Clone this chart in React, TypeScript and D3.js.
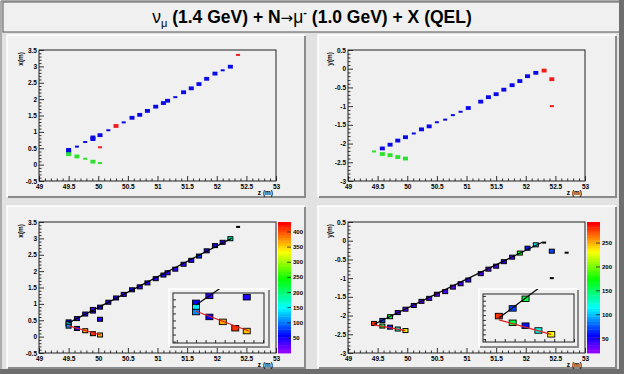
import React, { useRef, useEffect } from 'react';
import * as d3 from 'd3';

// XZ view hits. label: mu = muon track, p = proton, x = unassociated
const zXZ = [49.50, 49.50, 49.64, 49.78, 49.91, 49.91, 50.03, 50.17, 50.30, 50.43, 50.57, 50.70, 50.83, 50.97, 51.10, 51.17, 51.30, 51.44, 51.57, 51.70, 51.83, 51.97, 52.10, 52.23, 52.36, 50.03, 49.50, 49.64, 49.78, 49.91, 50.03];
const xXZ = [0.45, 0.39, 0.55, 0.69, 0.78, 0.83, 0.90, 1.05, 1.18, 1.29, 1.43, 1.52, 1.64, 1.77, 1.88, 1.95, 2.06, 2.21, 2.33, 2.46, 2.62, 2.78, 2.88, 2.99, 3.35, 0.53, 0.32, 0.25, 0.18, 0.09, 0.05];
const labelXZ = ['mu', 'mu', 'mu', 'mu', 'mu', 'mu', 'mu', 'mu', 'x', 'mu', 'mu', 'mu', 'mu', 'mu', 'mu', 'mu', 'mu', 'mu', 'mu', 'mu', 'mu', 'mu', 'mu', 'mu', 'x', 'x', 'p', 'p', 'p', 'p', 'p'];
const mipXZ = [2, 2, 1, 1, 2, 2, 2, 1, 2, 1, 2, 2, 2, 2, 2, 2, 1, 2, 2, 2, 2, 2, 1, 2, 1, 1, 2, 2, 1, 2, 1];
const adcXZ = [60, 140, 40, 35, 40, 30, 45, 40, 35, 30, 60, 40, 35, 40, 45, 40, 35, 40, 45, 70, 40, 45, 35, 180, 0, 45, 110, 55, 370, 410, 360];

// YZ view hits. label n = noise hit seen only in the charge view
const zYZ = [49.58, 49.71, 49.84, 49.97, 50.11, 50.24, 50.37, 50.50, 50.64, 50.77, 50.90, 51.03, 51.24, 51.37, 51.50, 51.63, 51.77, 51.90, 52.03, 52.17, 52.31, 52.44, 52.44, 52.69, 49.44, 49.58, 49.71, 49.84, 49.97];
const yYZ = [-2.13, -2.03, -1.92, -1.83, -1.73, -1.62, -1.54, -1.43, -1.36, -1.24, -1.15, -1.05, -0.88, -0.76, -0.68, -0.56, -0.44, -0.33, -0.20, -0.11, -0.05, -0.28, -1.00, -0.32, -2.21, -2.28, -2.31, -2.36, -2.40];
const labelYZ = ['mu', 'mu', 'mu', 'mu', 'mu', 'mu', 'mu', 'mu', 'mu', 'mu', 'mu', 'mu', 'mu', 'mu', 'mu', 'mu', 'mu', 'mu', 'mu', 'mu', 'x', 'x', 'x', 'n', 'p', 'p', 'p', 'p', 'p'];
const mipYZ = [2, 2, 2, 2, 1, 2, 2, 1, 1, 1, 1, 2, 2, 2, 2, 2, 2, 2, 2, 2, 2, 2, 1, 0, 1, 2, 2, 2, 2];
const adcYZ = [70, 160, 40, 35, 40, 35, 40, 35, 40, 35, 40, 45, 40, 35, 40, 45, 40, 170, 60, 110, 0, 70, 0, 0, 280, 160, 60, 120, 230];

// fitted tracks [z, coord]
const muFitXZ: [number, number][] = [[49.50, 0.42], [52.25, 3.00]];
const pFitXZ: [number, number][] = [[49.50, 0.33], [50.05, 0.05]];
const muFitYZ: [number, number][] = [[49.44, -2.23], [52.28, -0.04]];
const pFitYZ: [number, number][] = [[49.44, -2.25], [49.97, -2.40]];

// axes
const zTicks = [49, 49.5, 50, 50.5, 51, 51.5, 52, 52.5, 53];
const xTicks = [-0.5, 0, 0.5, 1, 1.5, 2, 2.5, 3, 3.5];
const yTicks = [-3, -2.5, -2, -1.5, -1, -0.5, 0, 0.5];
const adcTicksXZ = [50, 100, 150, 200, 250, 300, 350, 400];
const adcTicksYZ = [50, 100, 150, 200, 250];
const adcRangeXZ: [number, number] = [0, 433];
const adcRangeYZ: [number, number] = [20, 294];

const W = 624;
const H = 374;
const FONT = '"Liberation Sans", Arial, Helvetica, sans-serif';
const hitColor: Record<string, string> = { mu: '#0a0ae6', p: '#2ee02e', x: '#ee1c1c' };

// ROOT-like rainbow palette, 50 colours
const palette = d3.range(50).map(i => d3.hsl(280 - (i + 1) * 280 / 50, 1, 0.5).formatHex());
const palColor = (v: number, r: [number, number]) =>
  palette[Math.max(0, Math.min(49, Math.floor((v - r[0]) / (r[1] - r[0]) * 50)))];

type Box = { x: number; y: number; w: number; h: number };

function bevel(g: any, b: Box, fill: string) {
  g.append('rect').attr('x', b.x).attr('y', b.y).attr('width', b.w).attr('height', b.h).attr('fill', fill);
  g.append('path').attr('d', `M${b.x},${b.y + b.h} V${b.y} H${b.x + b.w}`)
    .attr('stroke', '#ffffff').attr('stroke-width', 1.5).attr('fill', 'none');
  g.append('path').attr('d', `M${b.x + 1},${b.y + b.h} H${b.x + b.w} V${b.y + 1}`)
    .attr('stroke', '#8a8a8a').attr('stroke-width', 2).attr('fill', 'none');
}

function drawAxes(g: any, x: any, y: any, xMajor: number[] | null, yMajor: number[] | null, labels: boolean, tick: number) {
  const yb = y.range()[0];
  const xl = x.range()[0];
  const style = (sel: any) => {
    sel.select('.domain').remove();
    sel.attr('font-size', 6.5).attr('font-family', FONT).attr('font-weight', 'bold').attr('color', '#000');
    sel.selectAll('line').attr('stroke-width', 0.8);
  };
  const fmt = labels ? (d: any) => String(d) : () => '';
  const xm = xMajor ?? x.ticks(8);
  const ym = yMajor ?? y.ticks(10);
  g.append('g').attr('transform', `translate(0,${yb})`)
    .call(d3.axisBottom(x).tickValues(xm).tickSize(-tick).tickPadding(3).tickFormat(fmt as any)).call(style);
  g.append('g').attr('transform', `translate(${xl},0)`)
    .call(d3.axisLeft(y).tickValues(ym).tickSize(-tick).tickPadding(2).tickFormat(fmt as any)).call(style);
  if (labels) {
    const [a, b] = x.domain();
    const minorX = d3.range(Math.round(a * 10), Math.round(b * 10) + 1).map(v => v / 10).filter(v => !xm.some(m => Math.abs(m - v) < 1e-6));
    const [c, d] = y.domain();
    const minorY = d3.range(Math.round(Math.min(c, d) * 10), Math.round(Math.max(c, d) * 10) + 1).map(v => v / 10).filter(v => !ym.some(m => Math.abs(m - v) < 1e-6));
    g.append('g').attr('transform', `translate(0,${yb})`)
      .call(d3.axisBottom(x).tickValues(minorX).tickSize(-tick / 2).tickFormat(() => '')).call(style);
    g.append('g').attr('transform', `translate(${xl},0)`)
      .call(d3.axisLeft(y).tickValues(minorY).tickSize(-tick / 2).tickFormat(() => '')).call(style);
  }
}

const App: React.FC = () => {
  const svgRef = useRef<SVGSVGElement | null>(null);

  useEffect(() => {
    const svg = d3.select(svgRef.current);
    svg.selectAll('*').remove();
    const defs = svg.append('defs');

    // canvas
    svg.append('rect').attr('width', W).attr('height', H).attr('fill', '#e2e2e2');

    // title pave
    svg.append('rect').attr('x', 3).attr('y', 2).attr('width', 617).attr('height', 30)
      .attr('fill', '#f0f0f0').attr('stroke', '#555').attr('stroke-width', 1);
    const t = svg.append('text').attr('x', 312).attr('y', 23).attr('text-anchor', 'middle')
      .attr('font-family', FONT).attr('font-size', 17.5).attr('font-weight', 'bold').attr('fill', '#000');
    t.append('tspan').attr('font-weight', 'normal').text('ν');
    t.append('tspan').attr('font-size', 11).attr('font-weight', 'normal').attr('dy', 4).text('μ');
    t.append('tspan').attr('dy', -4).text(' (1.4 GeV) + N');
    t.append('tspan').attr('font-weight', 'normal').attr('font-family', '"DejaVu Sans", sans-serif').attr('font-size', 15).text('→');
    t.append('tspan').attr('font-weight', 'normal').text('μ');
    t.append('tspan').attr('font-size', 11).attr('dy', -7).text('-');
    t.append('tspan').attr('dy', 7).text(' (1.0 GeV) + X (QEL)');

    const views = [
      { z: zXZ, v: xXZ, lab: labelXZ, mip: mipXZ, adc: adcXZ, dom: [-0.5, 3.5], ticks: xTicks, title: 'x(m)', mu: muFitXZ, p: pFitXZ, range: adcRangeXZ, cticks: adcTicksXZ, inset: { z: [49.26, 50.21], v: [-0.12, 0.59] } },
      { z: zYZ, v: yYZ, lab: labelYZ, mip: mipYZ, adc: adcYZ, dom: [-3, 0.5], ticks: yTicks, title: 'y(m)', mu: muFitYZ, p: pFitYZ, range: adcRangeYZ, cticks: adcTicksYZ, inset: { z: [49.28, 50.2], v: [-2.48, -1.98] } },
    ];

    const panels = [
      { view: 0, charge: false, pad: { x: 7, y: 35, w: 298, h: 162 }, frame: { x: 39, y: 50, w: 237, h: 131 } },
      { view: 1, charge: false, pad: { x: 318, y: 35, w: 298, h: 162 }, frame: { x: 348, y: 50, w: 237, h: 131 } },
      { view: 0, charge: true, pad: { x: 7, y: 206, w: 298, h: 162 }, frame: { x: 39, y: 222, w: 237, h: 131 }, bar: 278, inset: { pad: { x: 169, y: 289, w: 100, h: 58 }, frame: { x: 173, y: 293, w: 91, h: 50 } } },
      { view: 1, charge: true, pad: { x: 318, y: 206, w: 298, h: 162 }, frame: { x: 348, y: 222, w: 237, h: 131 }, bar: 587, inset: { pad: { x: 479, y: 289, w: 99, h: 58 }, frame: { x: 483, y: 294, w: 91, h: 48 } } },
    ];

    const wS = d3.scaleLinear().domain([1, 2]).range([4, 5]);
    const hS = d3.scaleLinear().domain([1, 2]).range([2, 3.8]);

    panels.forEach((P, pi) => {
      const V = views[P.view];
      const g = svg.append('g');
      bevel(g, P.pad, '#f0f0f0');
      const f = P.frame;
      const x = d3.scaleLinear().domain([49, 53]).range([f.x, f.x + f.w]);
      const y = d3.scaleLinear().domain(V.dom).range([f.y + f.h, f.y]);

      defs.append('clipPath').attr('id', `clip${pi}`).append('rect')
        .attr('x', f.x).attr('y', f.y).attr('width', f.w).attr('height', f.h);

      drawAxes(g, x, y, zTicks, V.ticks, true, 5);
      g.append('rect').attr('x', f.x).attr('y', f.y).attr('width', f.w).attr('height', f.h)
        .attr('fill', 'none').attr('stroke', '#222').attr('stroke-width', 1);

      // axis titles
      g.append('text').attr('transform', `translate(${f.x - 16},${f.y + 2}) rotate(-90)`)
        .attr('text-anchor', 'end').attr('font-family', FONT).attr('font-weight', 'bold').attr('font-size', 6.5)
        .attr('fill', '#000').text(V.title);
      g.append('text').attr('x', f.x + f.w - 3).attr('y', f.y + f.h + 14)
        .attr('text-anchor', 'end').attr('font-family', FONT).attr('font-weight', 'bold').attr('font-size', 6.5)
        .attr('fill', '#000').text('z (m)');

      const hits = V.z.map((z, i) => ({ z, v: V.v[i], lab: V.lab[i], mip: V.mip[i], adc: V.adc[i] }));
      const body = g.append('g').attr('clip-path', `url(#clip${pi})`);

      if (!P.charge) {
        body.selectAll('rect.hit').data(hits.filter(d => d.lab !== 'n')).enter().append('rect')
          .attr('x', d => x(d.z) - wS(d.mip) / 2).attr('y', d => y(d.v) - hS(d.mip) / 2)
          .attr('width', d => wS(d.mip)).attr('height', d => hS(d.mip))
          .attr('fill', d => hitColor[d.lab]);
        return;
      }

      const line = d3.line<[number, number]>().x(d => x(d[0])).y(d => y(d[1]));
      const drawHits = (sel: any, xs: any, ys: any, bw: number, bh: number, sw: number) => {
        sel.selectAll('rect.q').data(hits.filter(d => d.adc > 0)).enter().append('rect')
          .attr('x', (d: any) => xs(d.z) - bw / 2).attr('y', (d: any) => ys(d.v) - bh / 2)
          .attr('width', bw).attr('height', bh)
          .attr('fill', (d: any) => palColor(d.adc, V.range)).attr('stroke', '#000').attr('stroke-width', sw);
        sel.selectAll('rect.z').data(hits.filter(d => d.adc === 0)).enter().append('rect')
          .attr('x', (d: any) => xs(d.z) - 2).attr('y', (d: any) => ys(d.v) - 1)
          .attr('width', 4).attr('height', 2).attr('fill', '#000');
      };
      drawHits(body, x, y, 5, 4, 1);
      body.append('path').attr('d', line(V.mu)).attr('stroke', '#000').attr('stroke-width', 1.2).attr('fill', 'none');
      body.append('path').attr('d', line(V.p)).attr('stroke', '#e02020').attr('stroke-width', 1.2).attr('fill', 'none');

      // colour bar
      const cb = d3.scaleLinear().domain(V.range).range([f.y + f.h, f.y]);
      const step = (V.range[1] - V.range[0]) / 50;
      g.selectAll('rect.band').data(palette).enter().append('rect')
        .attr('x', P.bar!).attr('width', 13)
        .attr('y', (_, i) => cb(V.range[0] + (i + 1) * step))
        .attr('height', (_, i) => cb(V.range[0] + i * step) - cb(V.range[0] + (i + 1) * step) + 0.4)
        .attr('fill', c => c);
      g.selectAll('line.ct').data(V.cticks).enter().append('line')
        .attr('x1', P.bar! + 9).attr('x2', P.bar! + 13).attr('y1', d => cb(d)).attr('y2', d => cb(d))
        .attr('stroke', '#222').attr('stroke-width', 0.8);
      g.selectAll('text.ct').data(V.cticks).enter().append('text')
        .attr('x', P.bar! + 15).attr('y', d => cb(d)).attr('dy', '0.35em')
        .attr('font-family', FONT).attr('font-weight', 'bold').attr('font-size', 6).attr('fill', '#000').text(d => String(d));

      // zoomed vertex inset
      const I = P.inset!;
      const ig = g.append('g');
      bevel(ig, I.pad, '#f0f0f0');
      const ix = d3.scaleLinear().domain(V.inset.z).range([I.frame.x, I.frame.x + I.frame.w]);
      const iy = d3.scaleLinear().domain(V.inset.v).range([I.frame.y + I.frame.h, I.frame.y]);
      defs.append('clipPath').attr('id', `iclip${pi}`).append('rect')
        .attr('x', I.frame.x).attr('y', I.frame.y).attr('width', I.frame.w).attr('height', I.frame.h);
      defs.append('clipPath').attr('id', `ipad${pi}`).append('rect')
        .attr('x', I.pad.x).attr('y', I.pad.y).attr('width', I.pad.w).attr('height', I.pad.h);
      drawAxes(ig, ix, iy, null, null, false, 3);
      ig.append('rect').attr('x', I.frame.x).attr('y', I.frame.y).attr('width', I.frame.w).attr('height', I.frame.h)
        .attr('fill', 'none').attr('stroke', '#222').attr('stroke-width', 1);
      const ib = ig.append('g').attr('clip-path', `url(#iclip${pi})`);
      drawHits(ib, ix, iy, 7, 5.5, 0.9);
      const iline = d3.line<[number, number]>().x(d => ix(d[0])).y(d => iy(d[1]));
      const il = ig.append('g').attr('clip-path', `url(#ipad${pi})`);
      il.append('path').attr('d', iline(V.mu)).attr('stroke', '#000').attr('stroke-width', 1.2).attr('fill', 'none');
      il.append('path').attr('d', iline(V.p)).attr('stroke', '#e02020').attr('stroke-width', 1.2).attr('fill', 'none');
    });

    // window edge
    svg.append('path').attr('d', `M1,${H} V1 H${W}`).attr('stroke', '#777').attr('stroke-width', 1).attr('fill', 'none');
    svg.append('path').attr('d', `M0,${H - 2.5} H${W - 2.5} V0`).attr('stroke', '#6e6e6e').attr('stroke-width', 5).attr('fill', 'none');
  }, []);

  return <svg ref={svgRef} width={W} height={H} style={{ position: 'absolute', left: 0, top: 0 }} />;
};

export default App;
